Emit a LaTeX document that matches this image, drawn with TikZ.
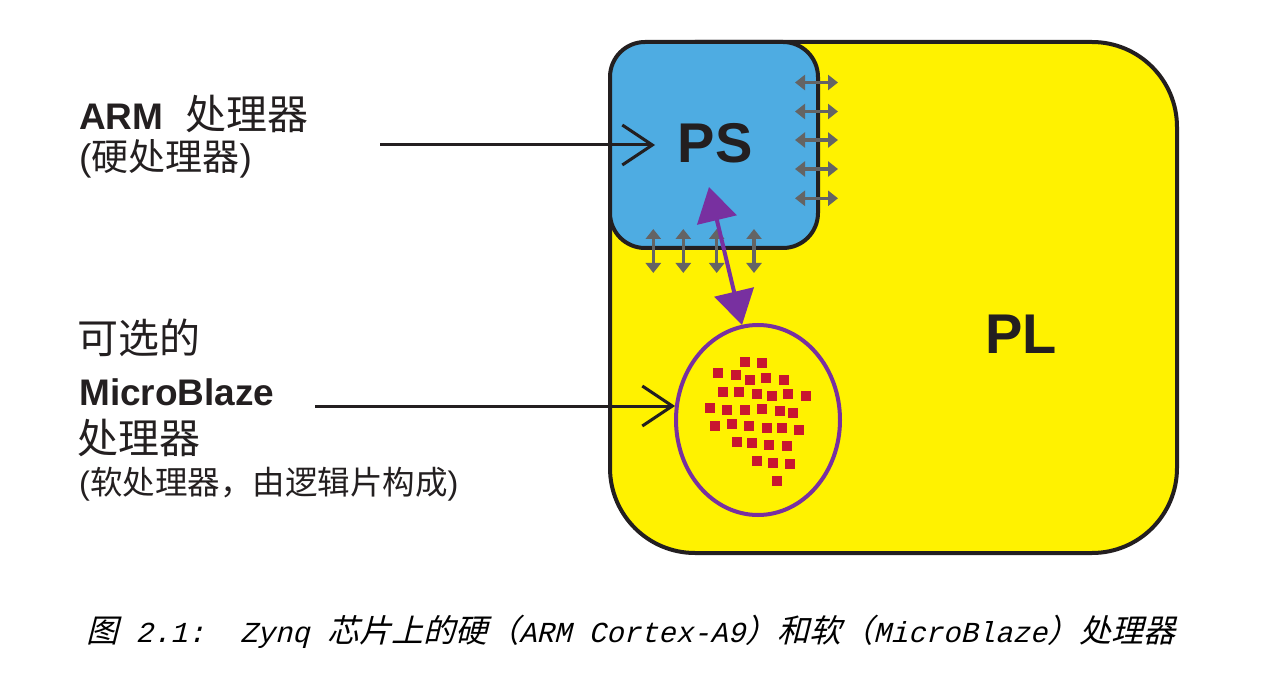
\documentclass[tikz,border=0pt]{standalone}
\usepackage{fontspec}
\setmainfont{Liberation Sans}
\newfontfamily\cjk{Noto Sans CJK SC}
\newfontfamily\capcjk[FakeSlant=0.25]{Noto Sans CJK SC}
\newfontfamily\caplat[FakeSlant=0.25]{Liberation Mono}
\usetikzlibrary{arrows.meta,shapes.geometric}
\definecolor{plyellow}{RGB}{255,242,0}
\definecolor{psblue}{RGB}{78,172,226}
\definecolor{outl}{RGB}{35,31,32}
\definecolor{iogray}{RGB}{100,100,100}
\definecolor{mbpurple}{RGB}{120,48,160}
\definecolor{cellred}{RGB}{200,22,48}
\tikzset{
  box/.style={draw=outl, line width=4pt},
  bigtxt/.style={font=\fontsize{56}{60}\selectfont\bfseries, text=outl, inner sep=0},
  lbl/.style={anchor=base west, inner sep=0, text=outl},
  pointer/.style={draw=outl, line width=3pt, -{Straight Barb[length=30pt,width=40pt]}},
  io/.style={draw=iogray, line width=3.2pt, {Triangle[length=10pt,width=15pt]}-{Triangle[length=10pt,width=15pt]}},
  cell/.style={fill=cellred, draw=none}
}
\begin{document}
\begin{tikzpicture}[x=1pt,y=-1pt]
\useasboundingbox (0,0) rectangle (1286,687);
% PL
\node[box, fill=plyellow, rounded corners=85pt, minimum width=567pt, minimum height=511pt, inner sep=0] (PL) at (893.5,297.5) {};
\node[bigtxt] (pltxt) at (1021,334) {PL};
% PS
\node[box, fill=psblue, rounded corners=35pt, minimum width=208pt, minimum height=206pt, inner sep=0] (PS) at (714,145) {};
\node[bigtxt] (pstxt) at (715,143) {PS};
% IO arrows right side
\foreach \i/\y in {1/82.5,2/111.5,3/140,4/169,5/198.3}{
  \coordinate (rl\i) at (795,\y);
  \coordinate (rr\i) at (838,\y);
  \draw[io] (rl\i) -- (rr\i);
}
% IO arrows bottom
\foreach \i/\x in {1/653.3,2/683.3,3/716.7,4/754}{
  \coordinate (bt\i) at (\x,229);
  \coordinate (bb\i) at (\x,273);
  \draw[io] (bt\i) -- (bb\i);
}
% MicroBlaze ellipse
\node[ellipse, draw=mbpurple, line width=4pt, minimum width=164pt, minimum height=190pt, inner sep=0] (MB) at (758,420) {};
\foreach \x/\y in {744.7/361.7,762/363.3,718.3/373.3,735.7/375.3,749.7/380.3,766.3/377.7,784/380,
  723.3/392,739.3/391.7,756.7/393.7,771.7/396.3,788/394,805.7/396.3,
  709.7/407.7,727.3/409.7,744.7/410.3,762/409.3,779.7/411,793/413,
  714.7/426.3,731.7/423.7,749.3/425.7,767.3/428,782/428,799.3/430,
  737/442.3,752/442.7,769.3/444.7,787/446.3,
  757/461.3,772.7/462.7,790/464.3,777.3/481.3}{
  \fill[cell] (\x-5,\y-5) rectangle (\x+5,\y+5);
}
% purple link
\coordinate (lnkps) at (709,187);
\coordinate (lnkmb) at (742,325);
\draw[mbpurple, line width=4pt, {Triangle[length=34pt,width=40pt]}-{Triangle[length=34pt,width=40pt]}] (lnkps) -- (lnkmb);
% left labels
\node[lbl] (arm) at (79,130) {\fontsize{37}{40}\selectfont\bfseries ARM\hspace{22pt}{\cjk\mdseries\fontsize{41}{44}\selectfont 处理器}};
\node[lbl] (hard) at (79,171) {\fontsize{37}{40}\selectfont({\cjk 硬处理器})};
\node[lbl] (opt) at (77,353) {\cjk\fontsize{41}{44}\selectfont 可选的};
\node[lbl] (mbname) at (79,405) {\fontsize{37}{40}\selectfont\bfseries MicroBlaze};
\node[lbl] (proc) at (77,453) {\cjk\fontsize{41}{44}\selectfont 处理器};
\node[lbl] (soft) at (79,494) {\fontsize{32.5}{40}\selectfont({\cjk 软处理器，由逻辑片构成})};
% pointers
\coordinate (armsrc) at (380,145);
\coordinate (armtip) at (655,145);
\draw[pointer] (armsrc) -- (armtip);
\coordinate (mbsrc) at (315,406);
\coordinate (mbtip) at (675,406);
\draw[pointer] (mbsrc) -- (mbtip);
% caption
\node[lbl, text=black] (cap) at (86,642) {{\capcjk\fontsize{32}{36}\selectfont 图}{\caplat\fontsize{29}{32}\selectfont\ 2.1:\ \ Zynq }{\capcjk\fontsize{32}{36}\selectfont 芯片上的硬（}{\caplat\fontsize{29}{32}\selectfont ARM Cortex-A9}{\capcjk\fontsize{32}{36}\selectfont ）和软（}{\caplat\fontsize{29}{32}\selectfont MicroBlaze}{\capcjk\fontsize{32}{36}\selectfont ）处理器}};
\end{tikzpicture}
\end{document}
